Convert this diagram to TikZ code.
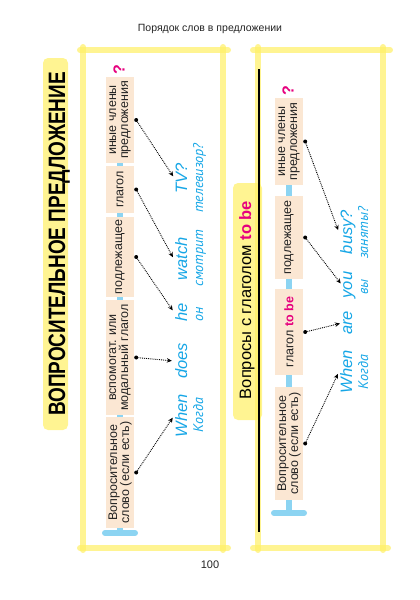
\documentclass[tikz,border=0pt]{standalone}
\usepackage{fontspec}
\usepackage{graphicx}
\setmainfont{Liberation Sans}
\newfontfamily\glossfont{PT Sans}
\usepackage{tikz}
\usepackage{xcolor}
\usetikzlibrary{positioning,arrows.meta,calc}
\definecolor{qyellow}{RGB}{255,240,100}
\definecolor{qpeach}{RGB}{251,231,211}
\definecolor{qsky}{RGB}{140,212,242}
\definecolor{qblue}{RGB}{22,166,230}
\definecolor{qpink}{RGB}{230,0,126}
\definecolor{qtext}{RGB}{35,35,35}
\tikzset{
  cell/.style={fill=qpeach, rotate=90, minimum height=28pt, inner sep=0pt, align=center, text=qtext, font={\fontsize{12.5}{12}\selectfont}},
  link/.style={qsky, line width=6pt},
  frame/.style={qyellow, line width=6pt, line cap=round, opacity=0.7},
  marker/.style={fill=qyellow, opacity=0.7, rounded corners=5pt},
  word/.style={rotate=90, anchor=base, inner sep=1pt, text=qblue, font={\fontsize{16.5}{16.5}\selectfont\itshape}},
  gloss/.style={rotate=90, anchor=base, inner sep=1pt, text=qblue, font={\glossfont\itshape\fontsize{14}{14}\selectfont}},
  pin/.style={circle, fill=black, inner sep=0pt, minimum size=4pt},
  pointer/.style={-{Stealth[length=5pt,width=4.5pt]}, densely dotted, line width=0.9pt, shorten >=2pt},
  ask/.style={rotate=90, text=qpink, inner sep=0pt, font={\bfseries\fontsize{16}{16}\selectfont}}
}

\begin{document}
\begin{tikzpicture}[x=1pt, y=-1pt]
    \useasboundingbox (0,0) rectangle (420,600);
    \node[anchor=base, text=qtext, font={\fontsize{10.5}{12}\selectfont}] (head) at (210,31) {Порядок слов в предложении};
    \node[anchor=base, text=qtext, font={\fontsize{11}{12}\selectfont}] (folio) at (210,568) {100};
    % yellow frames
    \draw[frame] (80,50) -- (228,50);
    \draw[frame] (83,47) -- (83,550);
    \draw[frame] (223,47) -- (223,550);
    \draw[frame] (80,548) -- (228,548);
    \draw[frame] (253,50) -- (390,50);
    \draw[frame] (258,47) -- (258,550);
    \draw[frame] (383,47) -- (383,550);
    \draw[frame] (253,548) -- (388,548);
    \fill[marker] (43,58) rectangle (68,430);
    \fill[marker] (233,183) rectangle (262,420);
    \draw[line width=1.2pt] (259,69) -- (259,532);
    % titles
    \node[rotate=90, anchor=base, inner sep=0pt, font={\bfseries\fontsize{23.7}{24}\selectfont}] (ltitle) at (65,244) {\scalebox{0.8}[1]{ВОПРОСИТЕЛЬНОЕ ПРЕДЛОЖЕНИЕ}};
    \node[rotate=90, anchor=base, inner sep=0pt, font={\fontsize{16.5}{17}\selectfont}] (rtitle) at (251,300) {Вопросы с глаголом \textcolor{qpink}{\bfseries to be}};
    % left column
    \node[cell, minimum width=86pt] (l1) at (120,120) {иные члены\\предложения};
    \node[cell, minimum width=47pt] (l2) at (120,189.5) {глагол};
    \node[cell, minimum width=80pt] (l3) at (120,257) {подлежащее};
    \node[cell, minimum width=115pt] (l4) at (120,357.5) {вспомогат. или\\модальный глагол};
    \node[cell, minimum width=111pt] (l5) at (120,472.5) {Вопросительное\\слово (если есть)};
    \draw[link] (l1.west) -- (l2.east);
    \draw[link] (l2.west) -- (l3.east);
    \draw[link] (l3.west) -- (l4.east);
    \draw[link] (l4.west) -- (l5.east);
    \coordinate (lfoot) at (120,533);
    \draw[link] (l5.west) -- (lfoot);
    \draw[link, line cap=round] ($(lfoot)+(-15,0)$) -- ($(lfoot)+(15,0)$);
    \node[ask] (lq) at (119,70) {?};
    \foreach \c in {1,...,5}
      \node[pin] (lp\c) at ($(l\c.south)+(2,0)$) {};
    \node[word] (lw1) at (187,178) {TV?};
    \node[gloss] (lg1) at (203,178) {телевизор?};
    \node[word] (lw2) at (187,259) {watch};
    \node[gloss] (lg2) at (203,258) {смотрит};
    \node[word] (lw3) at (187,312) {he};
    \node[gloss] (lg3) at (203,314) {он};
    \node[word] (lw4) at (187,361) {does};
    \node[word] (lw5) at (187,416) {When};
    \node[gloss] (lg5) at (203,415) {Когда};
    \foreach \c in {1,...,5}
      \draw[pointer] (lp\c) -- (lw\c.north);
    % right column
    \node[cell, minimum width=87pt] (r1) at (289,141.5) {иные члены\\предложения};
    \node[cell, minimum width=83pt] (r2) at (289,237.5) {подлежащее};
    \node[cell, minimum width=86pt] (r3) at (289,332) {глагол \textcolor{qpink}{\bfseries to be}};
    \node[cell, minimum width=113pt] (r4) at (289,443.5) {Вопросительное\\слово (если есть)};
    \draw[link] (r1.west) -- (r2.east);
    \draw[link] (r2.west) -- (r3.east);
    \draw[link] (r3.west) -- (r4.east);
    \coordinate (rfoot) at (289,513);
    \draw[link] (r4.west) -- (rfoot);
    \draw[link, line cap=round] ($(rfoot)+(-15,0)$) -- ($(rfoot)+(15,0)$);
    \node[ask] (rq) at (288,91) {?};
    \foreach \c in {1,...,4}
      \node[pin] (rp\c) at ($(r\c.south)+(2,0)$) {};
    \node[word] (rw1) at (352,232) {busy?};
    \node[gloss] (rg1) at (368,233) {заняты?};
    \node[word] (rw2) at (352,285) {you};
    \node[gloss] (rg2) at (368,287) {вы};
    \node[word] (rw3) at (352,323) {are};
    \node[word] (rw4) at (352,372) {When};
    \node[gloss] (rg4) at (368,372) {Когда};
    \foreach \c in {1,...,4}
      \draw[pointer] (rp\c) -- (rw\c.north);
\end{tikzpicture}
\end{document}
